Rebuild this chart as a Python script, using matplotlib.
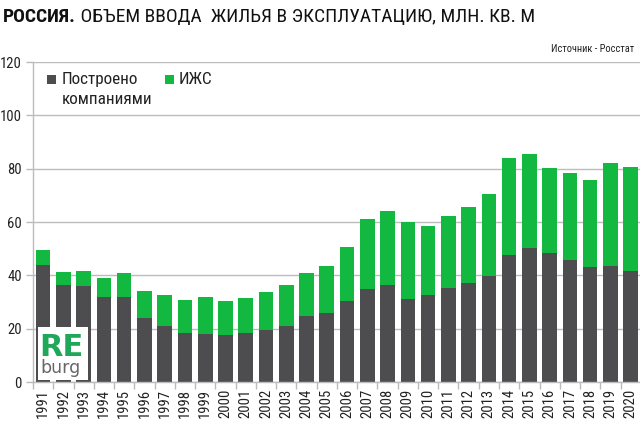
import matplotlib
matplotlib.use("Agg")
import matplotlib.pyplot as plt
from matplotlib import font_manager as fm
from matplotlib.patches import Rectangle
import numpy as np

years = [str(y) for y in range(1991, 2021)]
companies = [43.9, 36.5, 36.0, 31.9, 31.9, 23.9, 20.9, 18.4, 18.1, 17.5,
             18.3, 19.5, 20.9, 24.8, 25.9, 30.4, 34.7, 36.5, 31.1, 32.6,
             35.2, 37.1, 39.7, 47.7, 50.2, 48.2, 45.7, 43.1, 43.5, 41.5]
izhs = [5.5, 4.9, 5.6, 7.2, 9.0, 10.4, 11.6, 12.2, 13.9, 12.8,
        13.1, 14.3, 15.5, 16.1, 17.6, 20.2, 26.4, 27.8, 28.8, 25.8,
        27.2, 28.7, 30.9, 36.4, 35.3, 32.1, 32.8, 32.7, 38.6, 39.0]
yticks = [0, 20, 40, 60, 80, 100, 120]
series_labels = ["Построено\nкомпаниями", "ИЖС"]
title_bold = "РОССИЯ."
title_rest = " ОБЪЕМ ВВОДА  ЖИЛЬЯ В ЭКСПЛУАТАЦИЮ, МЛН. КВ. М"
source = "Источник - Росстат"

avail = {f.name for f in fm.fontManager.ttflist}
FONT = "DejaVu Sans"
for cand in ["Roboto Condensed", "Liberation Sans Narrow", "Roboto"]:
    if cand in avail:
        FONT = cand
        break
plt.rcParams["font.family"] = [FONT, "DejaVu Sans"]

DARK = "#4d4d4f"
GREEN = "#12b83f"
GRID = "#bcbcbc"
TXT = "#222222"

fig = plt.figure(figsize=(6.4, 4.22), dpi=100)
ax = fig.add_axes([33 / 640, 1 - 382 / 422, 607 / 640, 320 / 422])

x = np.arange(len(years))
ax.bar(x, companies, width=0.72, color=DARK, zorder=2)
ax.bar(x, izhs, bottom=companies, width=0.72, color=GREEN, zorder=2)

ax.set_xlim(-0.5, len(years) - 0.54)
ax.set_ylim(0, 120)
ax.set_yticks(yticks)
ax.set_yticklabels([str(v) for v in yticks], fontsize=10.5, color=TXT)
ax.set_xticks(x)
ax.set_xticklabels(years, rotation=90, fontsize=10.5, color=TXT)
ax.set_xticks(np.arange(len(years)) - 0.5, minor=True)
ax.tick_params(axis="x", which="major", length=0, pad=5)
ax.tick_params(axis="x", which="minor", length=5, color=GRID, width=1)
ax.tick_params(axis="y", length=5, color=GRID, width=1, pad=3)
ax.grid(axis="y", color=GRID, lw=1, zorder=0)
ax.set_axisbelow(True)
for s in ["top", "right"]:
    ax.spines[s].set_visible(False)
for s in ["left", "bottom"]:
    ax.spines[s].set_color(GRID)
    ax.spines[s].set_linewidth(1)


def ax_xy(px, py):
    return ((px - 33) / 607, (382 - py) / 320)


# legend (manual, squares aligned with the first line)
for color, label, sq_x, tx_x in [(DARK, series_labels[0], 47, 62),
                                 (GREEN, series_labels[1], 165, 179)]:
    x0, y0 = ax_xy(sq_x, 83.5)
    ax.add_patch(Rectangle((x0, y0), 9 / 607, 9 / 320, transform=ax.transAxes,
                           facecolor=color, edgecolor="none", zorder=6,
                           clip_on=False))
    tx, ty = ax_xy(tx_x, 72)
    ax.text(tx, ty, label, transform=ax.transAxes, fontsize=12.3, color=TXT,
            va="top", ha="left", linespacing=1.4, zorder=6)

# logo
ax.add_patch(Rectangle((5 / 607, 2 / 320), 50 / 607, 53 / 320,
                       transform=ax.transAxes, facecolor="white",
                       edgecolor="none", zorder=5))
lx, ly = ax_xy(39, 356)
ax.text(lx, ly, "RE", transform=ax.transAxes, color="#1fa85a",
        fontsize=22, fontweight="bold", va="baseline", ha="left", zorder=6,
        family="DejaVu Sans")
lx, ly = ax_xy(40, 373)
ax.text(lx, ly, "burg", transform=ax.transAxes, color="#666666",
        fontsize=12.5, va="baseline", ha="left", zorder=6,
        family="DejaVu Sans")

t1 = fig.text(3 / 640, 1 - 17 / 422, title_bold, fontsize=14, fontweight="bold",
              color="#111111", va="center", ha="left")
ax.annotate(title_rest, xy=(1, 0.5), xycoords=t1, va="center", ha="left",
            fontsize=14, color="#111111", annotation_clip=False)
fig.text(634 / 640, 1 - 49 / 422, source, fontsize=7.5, color=TXT,
         ha="right", va="center")

fig.savefig("out.png", dpi=100)
